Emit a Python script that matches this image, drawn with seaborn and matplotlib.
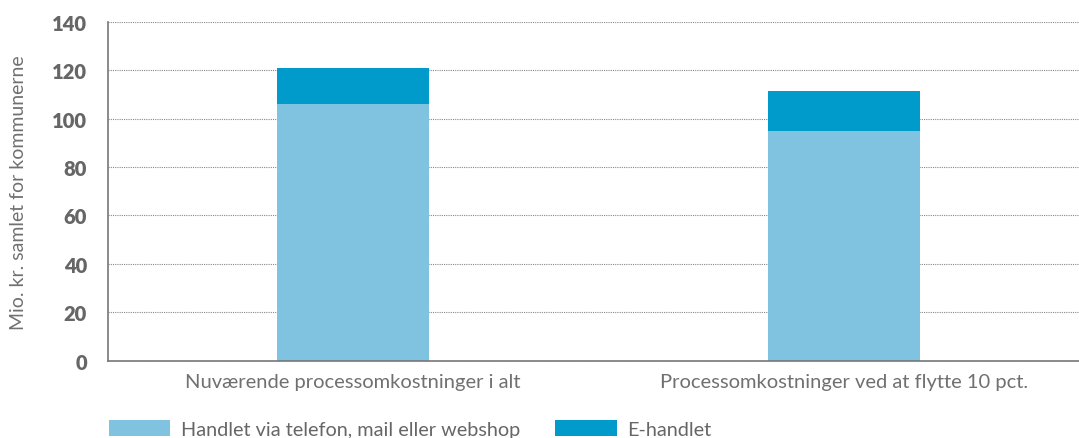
import matplotlib
matplotlib.use("Agg")
import matplotlib.pyplot as plt
import seaborn as sns
import pandas as pd
from matplotlib.patches import Patch

# data
categories = ["Nuværende processomkostninger i alt", "Processomkostninger ved at flytte 10 pct."]
telefon_mail_webshop = [106, 95]
e_handlet = [15, 16.5]
series_names = ["Handlet via telefon, mail eller webshop", "E-handlet"]
y_ticks = [0, 20, 40, 60, 80, 100, 120, 140]

light = "#80c3e1"
dark = "#009bcb"
grey = "#666666"

sns.set_style("white")
plt.rcParams["font.family"] = ["Lato", "DejaVu Sans"]

df = pd.DataFrame({
    "kategori": categories,
    "telefon": telefon_mail_webshop,
    "total": [a + b for a, b in zip(telefon_mail_webshop, e_handlet)],
})

fig = plt.figure(figsize=(10.79, 4.39), dpi=100)
ax = fig.add_axes([0.1, 0.176, 0.9, 0.772])

# stacked bars: total first (dark), then the lower part on top (light)
sns.barplot(data=df, x="kategori", y="total", color=dark, width=0.31, ax=ax,
            saturation=1, linewidth=0)
sns.barplot(data=df, x="kategori", y="telefon", color=light, width=0.31, ax=ax,
            saturation=1, linewidth=0)

ax.set_ylim(0, 140)
ax.set_xlim(-0.5, 1.48)
ax.set_yticks(y_ticks)
ax.set_yticklabels([str(t) for t in y_ticks], fontsize=14.5, fontweight="heavy", color=grey)
ax.tick_params(axis="x", labelsize=14.5, colors="#707070", length=0, pad=9)
ax.tick_params(axis="y", length=0, pad=15)
ax.set_xlabel("")
ax.set_ylabel("Mio. kr. samlet for kommunerne", fontsize=14, color="#707070", labelpad=18)

ax.yaxis.grid(True, linestyle=(0, (1, 1)), color="#888888", linewidth=0.8)
ax.set_axisbelow(True)
for s in ["top", "right"]:
    ax.spines[s].set_visible(False)
for s in ["left", "bottom"]:
    ax.spines[s].set_color("#777777")
    ax.spines[s].set_linewidth(1.2)

handles = [Patch(facecolor=light, edgecolor="none"), Patch(facecolor=dark, edgecolor="none")]
fig.legend(handles, series_names, loc="lower left", bbox_to_anchor=(0.084, -0.04), ncol=2,
           frameon=False, fontsize=14.3, handlelength=3.1, handleheight=0.9,
           handletextpad=0.55, columnspacing=1.75, labelcolor=grey)

fig.savefig("out.png", dpi=100)
